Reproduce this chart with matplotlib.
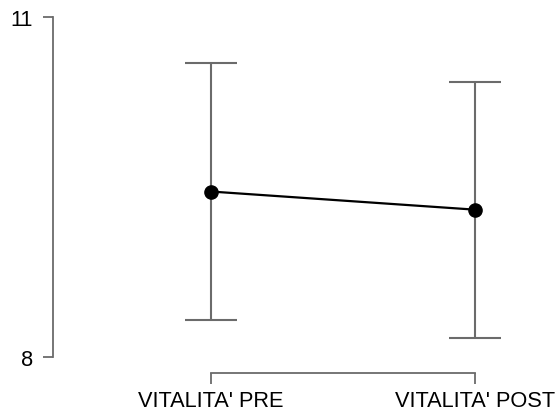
import matplotlib
matplotlib.use("Agg")
import matplotlib.pyplot as plt

# Descriptive plot: mean with 95% CI for each condition
conditions = ["VITALITA' PRE", "VITALITA' POST"]
means = [9.46, 9.30]
ci_half = [1.13, 1.13]
y_ticks = [8, 11]

plt.rcParams['font.family'] = ['Liberation Sans', 'DejaVu Sans']

W, H = 558, 414
fig = plt.figure(figsize=(W / 100, H / 100), dpi=100)

# axes box in pixels
left_px, right_px, top_px, bottom_px = 53, 545, 8, 374
ax = fig.add_axes([left_px / W, (H - bottom_px) / H,
                   (right_px - left_px) / W, (bottom_px - top_px) / H])

x = list(range(len(conditions)))
grey = '#6b6b6b'

ax.errorbar(x, means, yerr=ci_half, fmt='none', ecolor=grey,
            elinewidth=1.5, capsize=19, capthick=1.5, zorder=1)
ax.plot(x, means, color='black', linewidth=1.6, marker='o',
        markersize=9.5, markerfacecolor='black', markeredgecolor='black',
        zorder=3)

# data-to-pixel layout: x=0 at 211px, x=1 at 475px; y=11 at 18px, y=8 at 358px
xs = (475 - 211)
ax.set_xlim(-(211 - left_px) / xs, 1 + (right_px - 475) / xs)
ys = (358 - 18) / 3
ax.set_ylim(8 - (bottom_px - 358) / ys, 11 + (18 - top_px) / ys)

ax.set_xticks(x)
ax.set_xticklabels(conditions)
ax.set_yticks(y_ticks)
ax.set_yticklabels([str(t) for t in y_ticks])

for s in ['top', 'right']:
    ax.spines[s].set_visible(False)
ax.spines['left'].set_bounds(8, 11)
ax.spines['bottom'].set_bounds(0, 1)
for s in ['left', 'bottom']:
    ax.spines[s].set_color(grey)
    ax.spines[s].set_linewidth(1.3)

ax.tick_params(axis='y', direction='out', length=7.5, width=1.3,
               color=grey, labelsize=15.7, pad=7, labelcolor='black')
ax.tick_params(axis='x', direction='out', length=8, width=1.3,
               color=grey, labelsize=15.7, pad=4, labelcolor='black')

fig.savefig('out.png', dpi=100, facecolor='white')
